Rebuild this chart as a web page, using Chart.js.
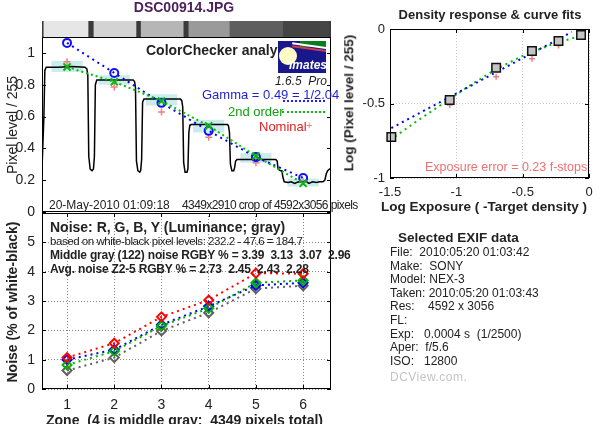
<!DOCTYPE html>
<html>
<head>
<meta charset="utf-8">
<script src="https://cdn.jsdelivr.net/npm/chart.js@4.4.1/dist/chart.umd.min.js"></script>
<style>
body { margin: 0; background: #fff; }
#wrap { position: relative; width: 600px; height: 424px; overflow: hidden;
        font-family: 'Liberation Sans', Arial, sans-serif; color: #222; }
canvas { position: absolute; left: 0; top: 0; }
.t { position: absolute; white-space: pre; line-height: 1; }
.b { font-weight: bold; }
.rot { transform: translate(-50%, -50%) rotate(-90deg); }
</style>
</head>
<body>
<div id="wrap">
  <canvas id="strip" width="600" height="424"></canvas>
  <canvas id="levels" width="600" height="424"></canvas>
  <canvas id="noise" width="600" height="424"></canvas>
  <canvas id="density" width="600" height="424"></canvas>

  <div class="t b" style="left:84px;top:0px;width:200px;text-align:center;font-size:14px;color:#4b1e5c">DSC00914.JPG</div>
  <div class="t rot" style="left:12px;top:125px;font-size:14px">Pixel level / 255</div>
  <div class="t b" style="left:146px;top:43px;font-size:14px">ColorChecker analy</div>

  <div style="position:absolute;left:278px;top:41px;width:48px;height:32px;background:#18188a;overflow:hidden">
    <div style="position:absolute;left:22px;top:0;width:26px;height:6px;background:#0b7d1e"></div>
    <div style="position:absolute;left:14px;top:4px;width:40px;height:2px;background:#fff;transform:rotate(8deg)"></div>
    <div style="position:absolute;left:14px;top:7px;width:40px;height:2px;background:#d23a4a;transform:rotate(8deg)"></div>
    <div style="position:absolute;left:1px;top:6px;width:18px;height:18px;border-radius:50%;background:#fffcc8"></div>
    <div class="t b" style="left:11px;top:18px;font-size:12px;font-style:italic;color:#fff">Imatest</div>
  </div>
  <div class="t" style="left:275px;top:75px;font-size:12px;font-style:italic;width:56px;overflow:hidden">1.6.5  Pro</div>
  <div class="t" style="left:202px;top:88px;font-size:13px;color:#1f1fd0">Gamma = 0.49 = 1/2.04</div>
  <div style="position:absolute;left:283px;top:100px;width:42px;border-top:2px dotted #2020ff"></div>
  <div class="t" style="left:228px;top:105px;font-size:13px;color:#10a010">2nd order</div>
  <div style="position:absolute;left:282px;top:111px;width:43px;border-top:2px dotted #00c000"></div>
  <div class="t" style="left:259px;top:120px;font-size:13px;color:#e02020">Nominal</div>
  <div class="t" style="left:306px;top:120px;font-size:11px;color:#f08080">+</div>

  <div class="t" style="left:49px;top:199px;font-size:12px">20-May-2010 01:09:18</div>
  <div class="t" style="left:182px;top:199px;font-size:12px;letter-spacing:-0.6px">4349x2910 crop of 4592x3056 pixels</div>

  <div class="t b" style="left:50px;top:220px;font-size:14px">Noise: R, G, B, Y (Luminance; gray)</div>
  <div class="t" style="left:50px;top:236px;font-size:11.5px;letter-spacing:-0.45px">based on white-black pixel levels: 232.2 - 47.6 = 184.7</div>
  <div class="t b" style="left:50px;top:249px;font-size:12px;letter-spacing:-0.2px">Middle gray (122) noise RGBY % = 3.39  3.13  3.07  2.96</div>
  <div class="t b" style="left:50px;top:263px;font-size:12px;letter-spacing:-0.18px">Avg. noise Z2-5 RGBY % = 2.73  2.45  2.43  2.28</div>
  <div class="t b rot" style="left:12px;top:302px;font-size:14px">Noise (% of white-black)</div>
  <div class="t b" style="left:46px;top:413px;font-size:14px">Zone  (4 is middle gray;  4349 pixels total)</div>

  <div class="t b" style="left:390px;top:8px;width:200px;text-align:center;font-size:13px">Density response &amp; curve fits</div>
  <div class="t b rot" style="left:349px;top:103px;font-size:13.5px">Log (Pixel level / 255)</div>
  <div class="t b" style="left:381px;top:200px;font-size:13.5px">Log Exposure ( -Target density )</div>
  <div class="t" style="left:425px;top:161px;font-size:12.5px;color:#f07070">Exposure error = 0.23 f-stops</div>

  <div class="t b" style="left:398px;top:231px;font-size:13.5px">Selected EXIF data</div>
  <div class="t" style="left:390px;top:246px;font-size:12px;line-height:13.6px">File:  2010:05:20 01:03:42
Make:  SONY
Model: NEX-3
Taken: 2010:05:20 01:03:43
Res:    4592 x 3056
FL:
Exp:   0.0004 s  (1/2500)
Aper:  f/5.6
ISO:   12800</div>
  <div class="t" style="left:390px;top:371px;font-size:12px;color:#c4c4c4;letter-spacing:0.5px">DCView.com.</div>
</div>

<script>
// zone positions shared by the profile plot and the noise plot
const zones = [1, 2, 3, 4, 5, 6];
const zoneMin = 0.47;
const zoneMax = 6.59;

// gray patch strip above the profile (zone units)
const patchStart = [0.51, 1.57, 2.57, 3.58, 4.45, 5.58];
const patchEnd = [1.445, 2.46, 3.46, 4.45, 5.58, 6.55];
const patchGray = ['#e6e6e6', '#d3d3d3', '#b6b6b6', '#9a9a9a', '#5e5e5e', '#454545'];

// pixel profile across the patches
const profileX = [0.47, 0.49, 0.51, 0.53, 0.56, 0.8, 1.1, 1.38, 1.42, 1.44, 1.46, 1.49, 1.53, 1.56, 1.58,
  1.60, 1.63, 1.9, 2.2, 2.40, 2.43, 2.45, 2.47, 2.50, 2.54, 2.56, 2.58, 2.60, 2.63, 3.0,
  3.40, 3.43, 3.45, 3.47, 3.50, 3.54, 3.56, 3.58, 3.60, 3.63, 4.0, 4.40, 4.42, 4.44, 4.46,
  4.49, 4.53, 4.55, 4.57, 4.60, 4.9, 5.2, 5.42, 5.45, 5.47, 5.52, 5.55, 5.57, 5.60, 5.68,
  5.75, 5.82, 5.90, 5.97, 6.05, 6.12, 6.20, 6.28, 6.35, 6.42, 6.46, 6.49, 6.52, 6.56, 6.59];
const profileY = [0.27, 0.27, 0.60, 0.89, 0.91, 0.91, 0.915, 0.91, 0.90, 0.86, 0.35, 0.27, 0.26, 0.27, 0.35,
  0.80, 0.83, 0.83, 0.83, 0.83, 0.82, 0.78, 0.32, 0.26, 0.25, 0.26, 0.33, 0.69, 0.71, 0.71,
  0.71, 0.70, 0.66, 0.31, 0.25, 0.25, 0.27, 0.50, 0.545, 0.55, 0.55, 0.55, 0.54, 0.50, 0.30,
  0.26, 0.26, 0.28, 0.32, 0.33, 0.33, 0.33, 0.33, 0.32, 0.27, 0.26, 0.26, 0.22, 0.19, 0.185,
  0.19, 0.18, 0.19, 0.185, 0.195, 0.18, 0.19, 0.185, 0.19, 0.19, 0.20, 0.24, 0.26, 0.27, 0.27];

const gammaFit = [1.063, 0.874, 0.686, 0.51, 0.345, 0.214];
const secondOrder = [0.912, 0.818, 0.698, 0.541, 0.352, 0.18];
const nominal = [0.944, 0.786, 0.628, 0.47, 0.31, 0.19];
const patchLo = [0.88, 0.80, 0.67, 0.50, 0.31, 0.16];
const patchHi = [0.95, 0.86, 0.74, 0.58, 0.37, 0.21];
const levelTicks = [0, 0.2, 0.4, 0.6, 0.8, 1];
const levelLabels = ['0', '0.2', '0.4', '0.6', '0.8', '1'];

// noise, % of white-black
const noiseR = [1.07, 1.56, 2.46, 3.03, 3.95, 3.93];
const noiseG = [0.82, 1.29, 2.15, 2.75, 3.62, 3.70];
const noiseB = [1.00, 1.34, 2.19, 2.82, 3.53, 3.62];
const noiseY = [0.63, 1.07, 1.98, 2.60, 3.42, 3.52];
const noiseTicks = [0, 1, 2, 3, 4, 5];

// density response
const logExposure = [-1.49, -1.05, -0.70, -0.43, -0.23, -0.06];
const logLevel = [-0.725, -0.476, -0.26, -0.147, -0.08, -0.04];
const logNominal = [-0.72, -0.51, -0.32, -0.20, -0.11, -0.025];
const gammaLineX = [-1.49, -0.13];
const gammaLineY = [-0.665, -0.02];
const curveX = [-1.5, -1.3, -1.1, -0.9, -0.7, -0.5, -0.3, -0.1, -0.05];
const curveY = [-0.745, -0.62, -0.50, -0.38, -0.27, -0.18, -0.11, -0.055, -0.045];
const expTicks = [-1.5, -1, -0.5, 0];
const expLabels = ['-1.5', '-1', '-0.5', '0'];
const logTicks = [-1, -0.5, 0];
const logLabels = ['-1', '-0.5', '0'];

Chart.defaults.font.family = "'Liberation Sans', Arial, sans-serif";
Chart.defaults.color = '#222';

const zip = (xs, ys) => xs.map((x, i) => ({ x: x, y: ys[i] }));

// matlab-like frame: box round the plot area and inward tick marks
const framePlugin = {
  id: 'frame',
  beforeDatasetsDraw(chart, args, opts) {
    if (!opts.fill) return;
    const a = chart.chartArea;
    chart.ctx.save();
    chart.ctx.fillStyle = opts.fill;
    chart.ctx.fillRect(a.left, a.top, a.right - a.left, a.bottom - a.top);
    chart.ctx.restore();
  },
  afterDraw(chart, args, opts) {
    if (!opts.box) return;
    const { ctx, chartArea: a } = chart;
    const L = 4;
    ctx.save();
    ctx.strokeStyle = '#000';
    ctx.lineWidth = 1;
    ctx.strokeRect(a.left + 0.5, a.top + 0.5, a.right - a.left - 1, a.bottom - a.top - 1);
    ctx.beginPath();
    Object.values(chart.scales).forEach(s => {
      if (!s.options.display) return;
      s.ticks.forEach(t => {
        const p = Math.round(s.getPixelForValue(t.value)) + 0.5;
        if (s.isHorizontal()) {
          ctx.moveTo(p, a.bottom); ctx.lineTo(p, a.bottom - L);
          ctx.moveTo(p, a.top); ctx.lineTo(p, a.top + L);
        } else {
          ctx.moveTo(a.left, p); ctx.lineTo(a.left + L, p);
          ctx.moveTo(a.right, p); ctx.lineTo(a.right - L, p);
        }
      });
    });
    ctx.stroke();
    ctx.restore();
  }
};
Chart.register(framePlugin);

const base = {
  responsive: false,
  animation: false,
  devicePixelRatio: 1,
  events: [],
  plugins: { legend: { display: false }, tooltip: { enabled: false } }
};

// gray patch strip
new Chart(document.getElementById('strip'), {
  type: 'bar',
  data: {
    labels: ['strip'],
    datasets: [{
      data: patchStart.map((s, i) => ({ x: [s, patchEnd[i]], y: 'strip' })),
      backgroundColor: patchGray,
      categoryPercentage: 1,
      barPercentage: 1
    }]
  },
  options: {
    ...base,
    indexAxis: 'y',
    layout: { padding: { left: 42, top: 21, right: 269, bottom: 387 } },
    plugins: { ...base.plugins, frame: { fill: '#3a3a3a' } },
    scales: {
      x: { type: 'linear', min: zoneMin, max: zoneMax, display: false },
      y: { display: false }
    }
  }
});

// pixel level profile
new Chart(document.getElementById('levels'), {
  type: 'scatter',
  data: {
    datasets: [
      { data: zip(zones, secondOrder), showLine: true, borderColor: '#00c000', borderWidth: 2, borderDash: [2, 3],
        pointStyle: 'crossRot', pointRadius: 5, pointBorderWidth: 2, pointBorderColor: '#10b010' },
      { data: zip(zones, gammaFit), showLine: true, borderColor: '#0000ff', borderWidth: 2, borderDash: [2, 4],
        pointStyle: 'circle', pointRadius: 4, pointBorderWidth: 2, pointBorderColor: '#1010ff',
        pointBackgroundColor: 'rgba(0,0,0,0)' },
      { data: zip(zones, nominal), pointStyle: 'cross', pointRadius: 3.5, pointBorderWidth: 1.5,
        pointBorderColor: '#f08080' },
      { data: zip(profileX, profileY), showLine: true, borderColor: '#000', borderWidth: 1.5, pointRadius: 0 },
      { type: 'bar', data: zones.map((z, i) => ({ x: z, y: [patchLo[i], patchHi[i]] })),
        backgroundColor: 'rgba(185,230,230,0.75)', categoryPercentage: 1, barPercentage: 0.66 }
    ]
  },
  options: {
    ...base,
    layout: { padding: { left: 0, top: 37, right: 269, bottom: 212 } },
    plugins: { ...base.plugins, frame: { box: true } },
    scales: {
      x: { type: 'linear', min: zoneMin, max: zoneMax, offset: false, display: false },
      y: {
        min: 0, max: 1.1,
        afterFit: s => { s.width = 42; },
        afterBuildTicks: s => { s.ticks = levelTicks.map(v => ({ value: v })); },
        grid: { display: false, drawTicks: false },
        border: { display: false },
        ticks: { padding: 7, font: { size: 14 }, callback: (v, i) => levelLabels[i] }
      }
    }
  }
});

// noise per zone
const noiseSet = (vals, color) => ({
  data: zip(zones, vals), showLine: true, borderColor: color, borderWidth: 2, borderDash: [2, 4],
  pointStyle: 'rectRot', pointRadius: 4.5, pointBorderWidth: 2, pointBorderColor: color,
  pointBackgroundColor: 'rgba(0,0,0,0)'
});
new Chart(document.getElementById('noise'), {
  type: 'scatter',
  data: {
    datasets: [
      noiseSet(noiseR, '#ff0000'),
      noiseSet(noiseG, '#00b400'),
      noiseSet(noiseB, '#0000ff'),
      noiseSet(noiseY, '#606060')
    ]
  },
  options: {
    ...base,
    layout: { padding: { left: 0, top: 213, right: 269, bottom: 0 } },
    plugins: { ...base.plugins, frame: { box: true } },
    scales: {
      x: {
        type: 'linear', min: zoneMin, max: zoneMax,
        afterFit: s => { s.height = 35; },
        afterBuildTicks: s => { s.ticks = zones.map(v => ({ value: v })); },
        grid: { color: '#888', drawTicks: false },
        border: { display: false, dash: [1, 2] },
        ticks: { padding: 8, font: { size: 14 }, callback: v => String(v) }
      },
      y: {
        min: 0, max: 6,
        afterFit: s => { s.width = 42; },
        afterBuildTicks: s => { s.ticks = noiseTicks.map(v => ({ value: v })); },
        grid: { color: '#888', drawTicks: false },
        border: { display: false, dash: [1, 2] },
        ticks: { padding: 7, font: { size: 14 }, callback: v => String(v) }
      }
    }
  }
});

// density response and fits
new Chart(document.getElementById('density'), {
  type: 'scatter',
  data: {
    datasets: [
      { data: zip(logExposure, logLevel), pointStyle: 'rect', pointRadius: 6, pointBorderWidth: 1.5,
        pointBorderColor: '#111', pointBackgroundColor: '#c4c4c4', clip: false },
      { data: zip(logExposure, logNominal), pointStyle: 'cross', pointRadius: 3, pointBorderWidth: 1.5,
        pointBorderColor: '#f08080' },
      { data: zip(gammaLineX, gammaLineY), showLine: true, borderColor: '#0000ff', borderWidth: 2,
        borderDash: [2, 4], pointRadius: 0 },
      { data: zip(curveX, curveY), showLine: true, borderColor: '#00c000', borderWidth: 2,
        borderDash: [2, 4], pointRadius: 0 }
    ]
  },
  options: {
    ...base,
    layout: { padding: { left: 340, top: 29, right: 11, bottom: 200 } },
    plugins: { ...base.plugins, frame: { box: true } },
    scales: {
      x: {
        type: 'linear', min: -1.5, max: 0,
        afterFit: s => { s.height = 46; },
        afterBuildTicks: s => { s.ticks = expTicks.map(v => ({ value: v })); },
        grid: { color: '#c8c8c8', drawTicks: false },
        border: { display: false, dash: [1, 2] },
        ticks: { padding: 7, font: { size: 13 }, callback: (v, i) => expLabels[i] }
      },
      y: {
        min: -1, max: 0,
        afterFit: s => { s.width = 50; },
        afterBuildTicks: s => { s.ticks = logTicks.map(v => ({ value: v })); },
        grid: { color: '#c8c8c8', drawTicks: false },
        border: { display: false, dash: [1, 2] },
        ticks: { padding: 5, font: { size: 13 }, callback: (v, i) => logLabels[i] }
      }
    }
  }
});
</script>
</body>
</html>
